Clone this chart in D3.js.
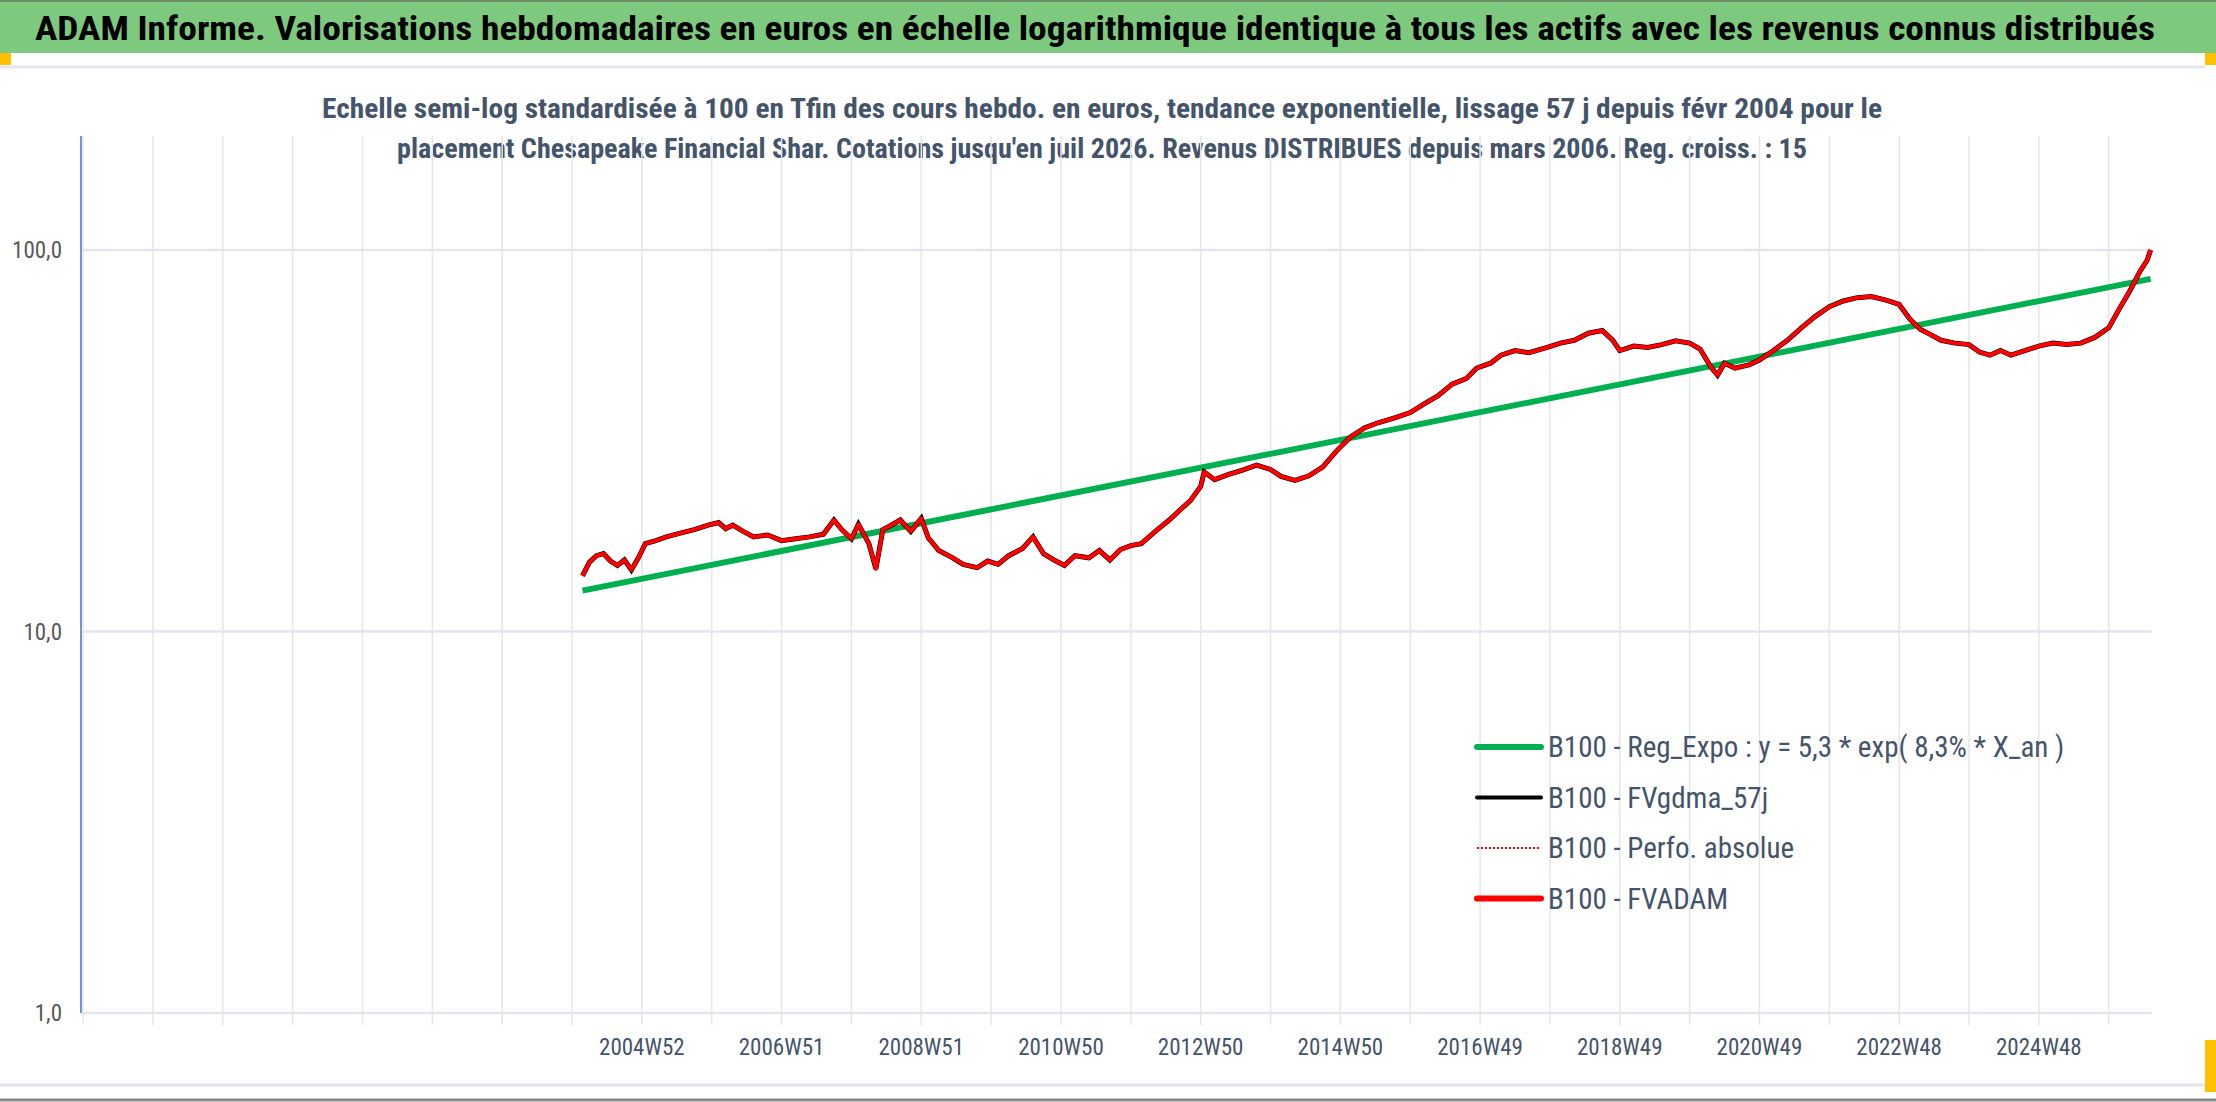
<!DOCTYPE html>
<html><head><meta charset="utf-8">
<script src="https://cdn.jsdelivr.net/npm/d3@7"></script>
<style>body{margin:0;background:#fff}svg{display:block}text{font-family:"Liberation Sans Narrow","Roboto Condensed","Open Sans",sans-serif}</style>
</head><body><svg></svg>
<script>
const W = 2216, H = 1102;
const title = "ADAM Informe. Valorisations hebdomadaires en euros en échelle logarithmique identique à tous les actifs avec les revenus connus distribués";
const subtitle = ["Echelle semi-log standardisée à 100 en Tfin des cours hebdo. en euros, tendance exponentielle, lissage 57 j depuis févr 2004 pour le",
  "placement Chesapeake Financial Shar. Cotations jusqu'en juil 2026. Revenus DISTRIBUES depuis mars 2006. Reg. croiss. : 15"];
const tickLabels = ["2004W52","2006W51","2008W51","2010W50","2012W50","2014W50","2016W49","2018W49","2020W49","2022W48","2024W48"];
const tickYears = [2005,2007,2009,2011,2013,2015,2017,2019,2021,2023,2025];
const yTicks = [1, 10, 100];
const legendLabels = ["B100 - Reg_Expo : y = 5,3 * exp( 8,3% *  X_an )","B100 - FVgdma_57j","B100 - Perfo. absolue","B100 - FVADAM"];
// [year, value]
const regLine = [[2004.15, 12.8], [2026.6, 84]];
const fvadam = [[2004.15,14.0],[2004.25,15.2],[2004.35,15.8],[2004.45,16.0],[2004.55,15.3],[2004.65,14.9],[2004.75,15.4],[2004.85,14.5],[2004.95,15.6],[2005.05,17.0],[2005.2,17.3],[2005.35,17.7],[2005.55,18.1],[2005.75,18.5],[2005.95,19.0],[2006.1,19.3],[2006.2,18.6],[2006.3,19.0],[2006.45,18.3],[2006.6,17.7],[2006.8,17.9],[2007.0,17.3],[2007.2,17.5],[2007.4,17.7],[2007.6,18.0],[2007.75,19.6],[2007.85,18.6],[2008.0,17.5],[2008.1,19.1],[2008.25,17.0],[2008.35,14.6],[2008.45,18.5],[2008.55,18.9],[2008.7,19.6],[2008.85,18.3],[2009.0,19.8],[2009.1,17.6],[2009.25,16.3],[2009.45,15.6],[2009.6,15.0],[2009.8,14.7],[2009.95,15.3],[2010.1,15.0],[2010.25,15.8],[2010.45,16.5],[2010.6,17.7],[2010.75,16.0],[2010.9,15.4],[2011.05,14.9],[2011.2,15.8],[2011.4,15.6],[2011.55,16.3],[2011.7,15.4],[2011.85,16.4],[2012.0,16.8],[2012.15,17.0],[2012.35,18.3],[2012.55,19.6],[2012.75,21.2],[2012.85,22.0],[2013.0,24.0],[2013.05,26.2],[2013.2,25.0],[2013.4,25.8],[2013.6,26.5],[2013.8,27.3],[2014.0,26.6],[2014.15,25.5],[2014.35,24.9],[2014.55,25.6],[2014.75,27.0],[2014.95,29.8],[2015.15,32.4],[2015.35,34.2],[2015.55,35.3],[2015.8,36.4],[2016.0,37.5],[2016.2,39.5],[2016.4,41.5],[2016.6,44.5],[2016.8,46.0],[2016.95,49.0],[2017.15,50.5],[2017.3,53.0],[2017.5,54.5],[2017.7,53.8],[2017.95,55.5],[2018.15,57.0],[2018.35,58.0],[2018.55,60.5],[2018.75,61.5],[2018.9,58.0],[2019.0,54.5],[2019.2,56.0],[2019.4,55.5],[2019.6,56.5],[2019.8,57.8],[2020.0,57.0],[2020.15,55.0],[2020.3,49.5],[2020.4,47.0],[2020.5,50.5],[2020.65,49.0],[2020.85,50.0],[2021.0,51.5],[2021.2,54.5],[2021.4,58.0],[2021.6,62.5],[2021.8,67.0],[2022.0,71.0],[2022.2,73.5],[2022.4,75.0],[2022.6,75.5],[2022.8,74.0],[2023.0,72.0],[2023.15,66.0],[2023.3,62.0],[2023.45,60.0],[2023.6,58.0],[2023.8,57.0],[2024.0,56.5],[2024.15,54.0],[2024.3,53.0],[2024.45,54.5],[2024.6,53.0],[2024.8,54.5],[2025.0,56.0],[2025.2,57.0],[2025.4,56.5],[2025.6,57.0],[2025.8,59.0],[2026.0,62.5],[2026.15,70.0],[2026.3,78.0],[2026.45,88.0],[2026.55,94.0],[2026.6,100]];

const svg = d3.select("svg").attr("width", W).attr("height", H);
const x = d3.scaleLinear().domain([1996.97, 2026.62]).range([81, 2152]);
const y = d3.scaleLog().domain([1, 100]).range([1013, 250]);
const plotTop = 136;

// frame
svg.append("rect").attr("x", 0).attr("y", 0).attr("width", W).attr("height", 53).attr("fill", "#7dc97d");
svg.append("line").attr("x1", 0).attr("x2", W).attr("y1", 1).attr("y2", 1).attr("stroke", "#6a8f6a").attr("stroke-width", 2);
svg.append("rect").attr("x", 0).attr("y", 53).attr("width", 11).attr("height", 12).attr("fill", "#ffc000");
svg.append("rect").attr("x", W - 11).attr("y", 53).attr("width", 11).attr("height", 12).attr("fill", "#ffc000");
svg.append("rect").attr("x", W - 11).attr("y", 1040).attr("width", 11).attr("height", 52).attr("fill", "#ffc000");
svg.append("line").attr("x1", 0).attr("x2", W - 11).attr("y1", 67).attr("y2", 67).attr("stroke", "#e3e5ea").attr("stroke-width", 3);
svg.append("line").attr("x1", 0).attr("x2", W - 11).attr("y1", 1085).attr("y2", 1085).attr("stroke", "#e3e5ea").attr("stroke-width", 3);
svg.append("line").attr("x1", 0).attr("x2", W).attr("y1", 1100).attr("y2", 1100).attr("stroke", "#888").attr("stroke-width", 3);

svg.append("text").attr("x", 35).attr("y", 40).attr("font-size", 34).attr("font-weight", "bold")
  .attr("fill", "#000").attr("textLength", 2120).attr("lengthAdjust", "spacingAndGlyphs").text(title);
const subLen = [1560, 1410];
subtitle.forEach((s, i) => {
  svg.append("text").attr("x", 1102).attr("y", 118 + i * 40).attr("text-anchor", "middle")
    .attr("font-size", 28).attr("font-weight", "bold").attr("fill", "#44546a")
    .attr("textLength", subLen[i]).attr("lengthAdjust", "spacingAndGlyphs").text(s);
});

// grid
const g = svg.append("g");
d3.range(1997, 2027).forEach(yr => {
  g.append("line").attr("x1", x(yr)).attr("x2", x(yr)).attr("y1", plotTop).attr("y2", 1025)
    .attr("stroke", "#e3e6ec").attr("stroke-width", 1.5);
});
yTicks.forEach(v => {
  g.append("line").attr("x1", 81).attr("x2", 2152).attr("y1", y(v)).attr("y2", y(v))
    .attr("stroke", "#e3e6ec").attr("stroke-width", 2.5);
  g.append("text").attr("x", 62).attr("y", y(v) + 8).attr("text-anchor", "end")
    .attr("font-size", 23).attr("fill", "#595959").text(d3.format(".1f")(v).replace(".", ","));
});
g.append("line").attr("x1", 81).attr("x2", 81).attr("y1", plotTop).attr("y2", 1013).attr("stroke", "#4472c4").attr("stroke-width", 1.5);
tickLabels.forEach((t, i) => {
  g.append("text").attr("x", x(tickYears[i])).attr("y", 1055).attr("text-anchor", "middle")
    .attr("font-size", 23).attr("fill", "#44546a").text(t);
});

const line = d3.line().x(d => x(d[0])).y(d => y(d[1]));
svg.append("path").datum(regLine).attr("d", line).attr("fill", "none").attr("stroke", "#00b050").attr("stroke-width", 6);
svg.append("path").datum(fvadam).attr("d", line).attr("fill", "none").attr("stroke", "#000").attr("stroke-width", 5);
svg.append("path").datum(fvadam).attr("d", line).attr("fill", "none").attr("stroke", "#ff0000").attr("stroke-width", 4).attr("stroke-linejoin", "round");

// legend
const styles = [{c: "#00b050", w: 6}, {c: "#000", w: 4}, {c: "#ff0000", w: 2, dash: "2,2"}, {c: "#ff0000", w: 6}];
legendLabels.forEach((l, i) => {
  const ly = 747 + i * 50.5;
  svg.append("line").attr("x1", 1477).attr("x2", 1541).attr("y1", ly).attr("y2", ly)
    .attr("stroke", styles[i].c).attr("stroke-width", styles[i].w).attr("stroke-dasharray", styles[i].dash || null)
    .attr("stroke-linecap", styles[i].dash ? "butt" : "round");
  svg.append("text").attr("x", 1548).attr("y", ly + 10).attr("font-size", 29).attr("fill", "#44546a").text(l);
});
</script></body></html>
